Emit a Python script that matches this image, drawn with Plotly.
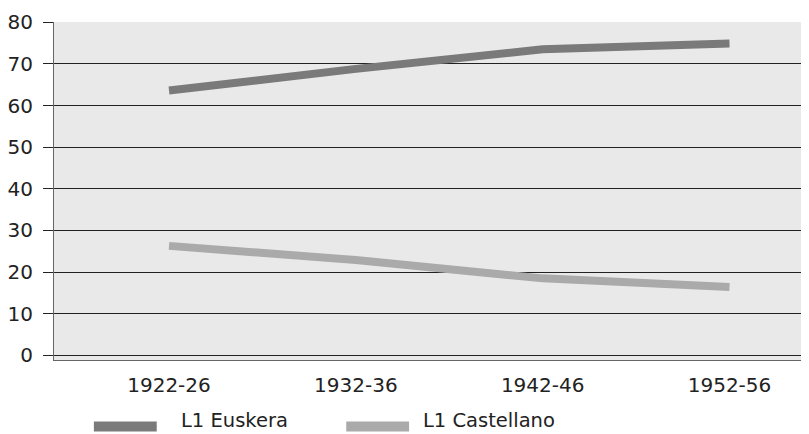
import plotly.graph_objects as go

categories = ["1922-26", "1932-36", "1942-46", "1952-56"]
euskera = [63.6, 68.8, 73.5, 74.9]
castellano = [26.3, 22.9, 18.5, 16.4]
series_names = ["L1 Euskera", "L1 Castellano"]
y_ticks = [0, 10, 20, 30, 40, 50, 60, 70, 80]

FONT = "DejaVu Sans"
C_EUS = "#7a7a7a"
C_CAS = "#aaaaaa"
xs = list(range(len(categories)))

fig = go.Figure()
fig.add_trace(go.Scatter(x=xs, y=euskera, mode="lines", name=series_names[0],
                         line=dict(color=C_EUS, width=8), showlegend=False))
fig.add_trace(go.Scatter(x=xs, y=castellano, mode="lines", name=series_names[1],
                         line=dict(color=C_CAS, width=8), showlegend=False))

OFF = 8  # page body margin
W, H = 809 - OFF, 434 - OFF
# plot area in page pixels: x 52..809, y 22..360
L, R, T, B = 52 - OFF, 0, 22 - OFF, 434 - 360
pw, ph = W - L - R, H - T - B

def px(x):
    return (x - OFF - L) / pw

def py(y):
    return (H - B - (y - OFF)) / ph

# manual legend
legend_items = [(92, 155, 177, C_EUS, series_names[0]), (345, 408, 420, C_CAS, series_names[1])]
for x0, x1, tx, col, name in legend_items:
    fig.add_shape(type="line", xref="paper", yref="paper", x0=px(x0), x1=px(x1),
                  y0=py(426.5), y1=py(426.5), line=dict(color=col, width=10))
    fig.add_annotation(xref="paper", yref="paper", x=px(tx), y=py(433.5), text=name,
                       showarrow=False, xanchor="left", yanchor="bottom",
                       font=dict(family=FONT, size=19.5, color="#222222"))

fig.update_layout(
    width=W, height=H,
    margin=dict(l=L, r=R, t=T, b=B, pad=0),
    paper_bgcolor="white",
    plot_bgcolor="#e9e9e9",
    font=dict(family=FONT, size=20, color="#222222"),
    xaxis=dict(range=[-0.6155, 3.4255], tickvals=xs, ticktext=categories,
               showgrid=False, zeroline=False, showline=True, linecolor="#666666",
               linewidth=1, ticks="", ticklabelstandoff=7, fixedrange=True),
    yaxis=dict(range=[-1.1, 80.05], tickvals=y_ticks, showgrid=True, gridcolor="#222222",
               gridwidth=1, zeroline=False, showline=True, linecolor="#666666", linewidth=1,
               ticks="outside", ticklen=10, tickcolor="#222222", ticklabelstandoff=6,
               fixedrange=True),
)

fig.write_html("out.html")
